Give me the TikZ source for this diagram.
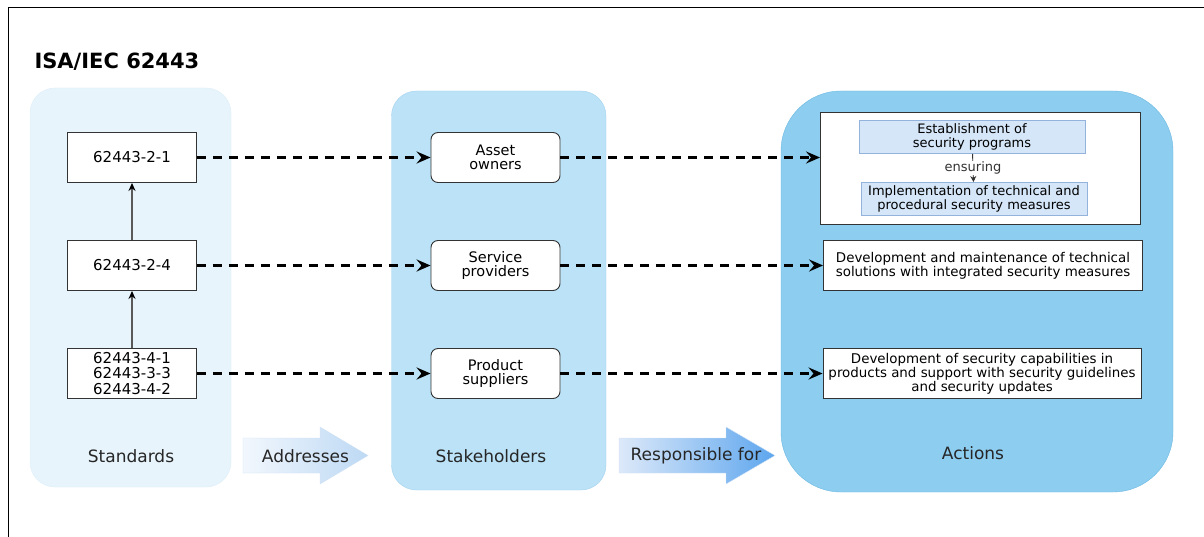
\documentclass[tikz,border=0pt]{standalone}
\usepackage{fontspec}
\setmainfont{DejaVu Sans}
\usetikzlibrary{arrows.meta,calc}
\definecolor{stdfill}{HTML}{E7F4FC}
\definecolor{stdline}{HTML}{DCEEF9}
\definecolor{holdfill}{HTML}{BBE2F6}
\definecolor{holdline}{HTML}{A3D3EE}
\definecolor{actfill}{HTML}{8CCDF0}
\definecolor{actline}{HTML}{6DB9E2}
\definecolor{progfill}{HTML}{D5E6F8}
\definecolor{progline}{HTML}{93B3DD}
\definecolor{addrleft}{HTML}{F2F7FD}
\definecolor{addrright}{HTML}{BDD9F4}
\definecolor{respleft}{HTML}{DDE9F9}
\definecolor{respright}{HTML}{5DA6EE}
\definecolor{blockline}{HTML}{CFE1F4}
\tikzset{
  stdbox/.style={draw=black!80, fill=white, line width=0.9pt, minimum width=129pt, minimum height=50pt, inner sep=0pt, align=center, font=\fontsize{15}{15.5}\selectfont},
  holder/.style={stdbox, rounded corners=7pt, font=\fontsize{14.5}{14.5}\selectfont},
  actbox/.style={stdbox, font=\fontsize{13.4}{14}\selectfont},
  progbox/.style={draw=progline, fill=progfill, line width=0.9pt, minimum width=226pt, minimum height=33pt, inner sep=0pt, align=center, font=\fontsize{13}{13.5}\selectfont},
  dasharrow/.style={line width=2.5pt, dash pattern=on 9pt off 7pt, -{Stealth[length=14pt,width=12pt,inset=5pt]}},
  uparrow/.style={line width=1.4pt, black!65, -{Stealth[length=8pt,width=7pt,black]}},
  lbl/.style={font=\fontsize{17}{17}\selectfont, text=black!85}
}

\begin{document}
\begin{tikzpicture}[x=1pt,y=-1pt]
    \useasboundingbox (0,0) rectangle (1204,537);
    \draw [line width=1pt] (8,537) -- (8,8) -- (1204,8);
    \node [anchor=west, font=\bfseries\fontsize{21}{21}\selectfont] (title) at (31,62) {ISA/IEC 62443};
    % panels
    \draw [rounded corners=25pt, fill=stdfill, draw=stdline] (30,88) rectangle (231,487);
    \draw [rounded corners=25pt, fill=holdfill, draw=holdline] (391.5,91) rectangle (606,490);
    \draw [rounded corners=60pt, fill=actfill, draw=actline] (781,91) rectangle (1173,492);
    % block arrows
    \shade [left color=addrleft, right color=addrright, draw=blockline]
        (243,438) -- (320,438) -- (320,427) -- (368,455.5) -- (320,484) -- (320,473) -- (243,473) -- cycle;
    \shade [left color=respleft, right color=respright, draw=blockline]
        (619,438) -- (726,438) -- (726,427) -- (775,455.5) -- (726,484) -- (726,473) -- (619,473) -- cycle;
    \node [lbl] (addr) at (305.5,456) {Addresses};
    \node [lbl] (resp) at (696,456) {Responsible for};
    % standards
    \node [stdbox] (s21) at (132,157.5) {62443-2-1};
    \node [stdbox] (s24) at (132,265.5) {62443-2-4};
    \node [stdbox] (s4x) at (132,373.5) {62443-4-1\\62443-3-3\\62443-4-2};
    \draw [uparrow] (s24) -- (s21);
    \draw [uparrow] (s4x) -- (s24);
    % stakeholders
    \node [holder] (own) at (495.5,157.5) {Asset\\owners};
    \node [holder] (srv) at (495.5,265.5) {Service\\providers};
    \node [holder] (sup) at (495.5,373.5) {Product\\suppliers};
    % actions
    \node [actbox, minimum width=320pt, minimum height=112pt] (act1) at (980.5,168) {};
    \node [progbox] (est) at (972,137) {Establishment of\\security programs};
    \node [progbox] (imp) at (974,199) {Implementation of technical and\\procedural security measures};
    \draw [black!80, line width=0.9pt, -{Stealth[length=6pt,width=6pt]}] (est) -- node [fill=white, inner sep=1pt, font=\fontsize{13}{13}\selectfont] (ens) {ensuring} (imp);
    \node [actbox, minimum width=319pt] (act2) at (983,265.5) {Development and maintenance of technical\\solutions with integrated security measures};
    \node [actbox, minimum width=318pt] (act3) at (982,373.5) {Development of security capabilities in\\products and support with security guidelines\\and security updates};
    % connectors
    \draw [dasharrow] (s21) -- (own);
    \draw [dasharrow] (s24) -- (srv);
    \draw [dasharrow] (s4x) -- (sup);
    \draw [dasharrow] (own) -- (own -| act1.west);
    \draw [dasharrow] (srv) -- (srv -| act2.west);
    \draw [dasharrow] (sup) -- (sup -| act3.west);
    % panel labels
    \node [lbl] (lstd) at (131,456) {Standards};
    \node [lbl] (lhold) at (491,456) {Stakeholders};
    \node [lbl] (lact) at (973,453) {Actions};
\end{tikzpicture}
\end{document}
